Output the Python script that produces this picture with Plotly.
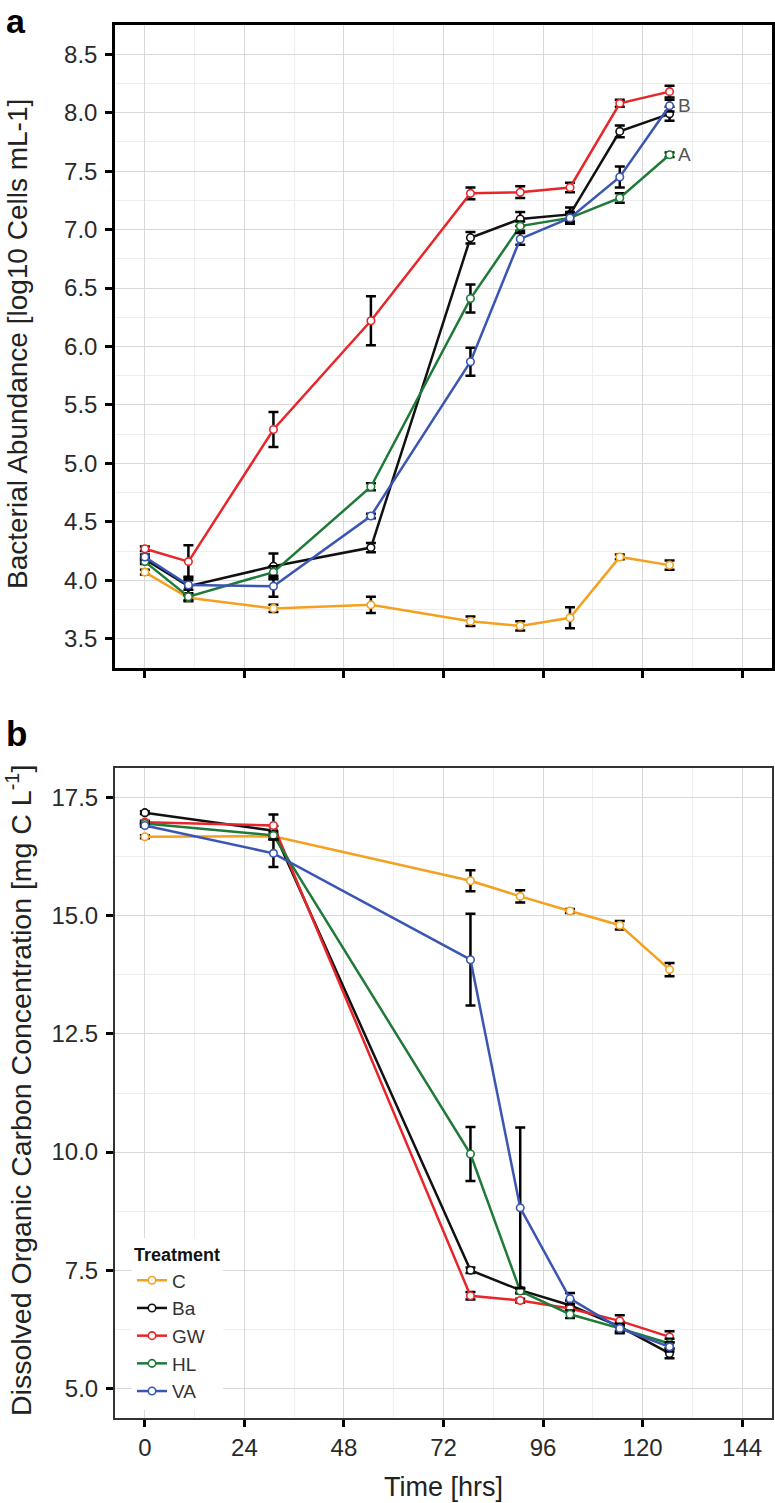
import plotly.graph_objects as go

# ---------------- data ----------------
treatments = ["C", "Ba", "GW", "HL", "VA"]
colors = {"C": "#F4A020", "Ba": "#111111", "GW": "#E8262A", "HL": "#1F7A38", "VA": "#3B55B3"}

# Panel a: bacterial abundance (log10 cells/mL)
time_a = [0, 10.5, 31, 54.5, 78.5, 90.5, 102.5, 114.5, 126.5]
C_a = [4.07, 3.85, 3.76, 3.79, 3.65, 3.61, 3.68, 4.20, 4.13]
C_a_err = [0.02, 0.03, 0.03, 0.07, 0.04, 0.04, 0.09, 0.02, 0.04]
Ba_a = [4.18, 3.95, 4.12, 4.28, 6.93, 7.09, 7.13, 7.84, 7.99]
Ba_a_err = [0.02, 0.08, 0.11, 0.04, 0.05, 0.06, 0.06, 0.05, 0.06]
GW_a = [4.27, 4.16, 5.29, 6.22, 7.31, 7.32, 7.36, 8.08, 8.18]
GW_a_err = [0.02, 0.14, 0.15, 0.21, 0.05, 0.05, 0.04, 0.03, 0.05]
HL_a = [4.16, 3.86, 4.07, 4.80, 6.41, 7.03, 7.10, 7.27, 7.64]
HL_a_err = [0.02, 0.03, 0.05, 0.03, 0.12, 0.04, 0.04, 0.04, 0.02]
VA_a = [4.20, 3.96, 3.95, 4.55, 5.87, 6.92, 7.10, 7.45, 8.06]
VA_a_err = [0.02, 0.04, 0.09, 0.02, 0.12, 0.05, 0.05, 0.09, 0.05]

# Panel b: dissolved organic carbon (mg C/L)
time_b = [0, 31, 78.5, 90.5, 102.5, 114.5, 126.5]
C_b = [16.67, 16.68, 15.74, 15.41, 15.10, 14.80, 13.86]
C_b_err = [0.03, 0.05, 0.22, 0.13, 0.04, 0.09, 0.14]
Ba_b = [17.18, 16.80, 7.50, 7.08, 6.76, 6.31, 5.74]
Ba_b_err = [0.03, 0.10, 0.06, 0.05, 0.10, 0.10, 0.10]
GW_b = [16.98, 16.91, 6.96, 6.86, 6.69, 6.43, 6.09]
GW_b_err = [0.03, 0.23, 0.08, 0.04, 0.05, 0.12, 0.12]
HL_b = [16.95, 16.70, 9.96, 7.06, 6.57, 6.27, 5.95]
HL_b_err = [0.03, 0.08, 0.57, 0.05, 0.08, 0.08, 0.10]
VA_b = [16.91, 16.32, 14.07, 8.82, 6.90, 6.27, 5.88]
VA_b_err = [0.03, 0.29, 0.97, 1.70, 0.12, 0.10, 0.10]

x_ticks = [0, 24, 48, 72, 96, 120, 144]
group_labels = {"VA": "B", "HL": "A"}

series_a = {"C": (C_a, C_a_err), "Ba": (Ba_a, Ba_a_err), "GW": (GW_a, GW_a_err),
            "HL": (HL_a, HL_a_err), "VA": (VA_a, VA_a_err)}
series_b = {"C": (C_b, C_b_err), "Ba": (Ba_b, Ba_b_err), "GW": (GW_b, GW_b_err),
            "HL": (HL_b, HL_b_err), "VA": (VA_b, VA_b_err)}

FONT = "Liberation Sans, Arial, Helvetica, sans-serif"
W, H = 775, 1503

fig = go.Figure()


def add(tr, t, vals, errs, xa, ya, show):
    fig.add_trace(go.Scatter(
        x=t, y=vals, mode="lines+markers", name=tr, legendgroup=tr, showlegend=show,
        xaxis=xa, yaxis=ya,
        line=dict(color=colors[tr], width=2.5),
        marker=dict(symbol="circle", size=7.5, color="white",
                    line=dict(color=colors[tr], width=1.6)),
        error_y=dict(type="data", array=errs, visible=True, color="black",
                     thickness=2.5, width=5),
    ))


for tr in treatments:
    v, e = series_a[tr]
    add(tr, time_a, v, e, "x", "y", False)
for tr in treatments:
    v, e = series_b[tr]
    add(tr, time_b, v, e, "x2", "y2", True)

# group letters next to final points of panel a
for tr, lab in group_labels.items():
    v, _ = series_a[tr]
    fig.add_annotation(x=time_a[-1], y=v[-1], xref="x", yref="y", text=lab,
                       showarrow=False, xanchor="left", xshift=6,
                       font=dict(family=FONT, size=19, color="#555555"))


def px_x(p):
    return p / W


def px_y(p):
    return 1 - p / H


grid_major = "#d9d9d9"
grid_minor = "#eeeeee"
TICKFONT = dict(family=FONT, size=24, color="#2a2a2a")

xcommon = dict(range=[-7.2, 151.2], tickmode="array", tickvals=x_ticks,
               ticks="outside", ticklen=7, tickwidth=2.5, tickcolor="black",
               showgrid=True, gridcolor=grid_major, gridwidth=1.4, zeroline=False,
               minor=dict(tickmode="array", tickvals=[12, 36, 60, 84, 108, 132],
                          showgrid=True, gridcolor=grid_minor, gridwidth=1, ticklen=0),
               showline=True, mirror=True, tickfont=TICKFONT)

fig.update_layout(
    width=W, height=H, margin=dict(l=0, r=0, t=0, b=0),
    paper_bgcolor="white", plot_bgcolor="white",
    font=dict(family=FONT),
    xaxis=dict(domain=[px_x(115), px_x(772)], anchor="y", showticklabels=False,
               linecolor="black", linewidth=2.5, **xcommon),
    yaxis=dict(domain=[px_y(668), px_y(25)], anchor="x", range=[3.25, 8.75],
               tickmode="array", tickvals=[3.5, 4.0, 4.5, 5.0, 5.5, 6.0, 6.5, 7.0, 7.5, 8.0, 8.5],
               tickformat=".1f", ticks="outside", ticklen=7, tickwidth=2.5, tickcolor="black",
               showgrid=True, gridcolor=grid_major, gridwidth=1.4, zeroline=False,
               minor=dict(tickmode="array",
                          tickvals=[3.75, 4.25, 4.75, 5.25, 5.75, 6.25, 6.75, 7.25, 7.75, 8.25],
                          showgrid=True, gridcolor=grid_minor, gridwidth=1, ticklen=0),
               showline=True, mirror=True, linecolor="black", linewidth=2.5,
               ticklabelstandoff=3, tickfont=TICKFONT),
    xaxis2=dict(domain=[px_x(115), px_x(772)], anchor="y2", showticklabels=True,
                linecolor="#333333", linewidth=2, **xcommon),
    yaxis2=dict(domain=[px_y(1418), px_y(768)], anchor="x2", range=[4.375, 18.125],
                tickmode="array", tickvals=[5.0, 7.5, 10.0, 12.5, 15.0, 17.5],
                tickformat=".1f", ticks="outside", ticklen=7, tickwidth=2.5, tickcolor="black",
                showgrid=True, gridcolor=grid_major, gridwidth=1.4, zeroline=False,
                minor=dict(tickmode="array", tickvals=[6.25, 8.75, 11.25, 13.75, 16.25],
                           showgrid=True, gridcolor=grid_minor, gridwidth=1, ticklen=0),
                showline=True, mirror=True, linecolor="#333333", linewidth=2,
                ticklabelstandoff=3, tickfont=TICKFONT),
    legend=dict(x=px_x(132), y=px_y(1238), xanchor="left", yanchor="top",
                bgcolor="white", borderwidth=0,
                title=dict(text="<b>Treatment</b>", font=dict(family=FONT, size=18, color="#111")),
                font=dict(family=FONT, size=19, color="#333"),
                tracegroupgap=0, itemwidth=30),
    showlegend=True,
)

# axis titles & panel letters
fig.add_annotation(x=px_x(17), y=px_y(344), xref="paper", yref="paper",
                   text="Bacterial Abundance [log10 Cells mL-1]", textangle=-90,
                   showarrow=False, xanchor="center", yanchor="middle",
                   font=dict(family=FONT, size=28, color="#222"))
fig.add_annotation(x=px_x(19), y=px_y(1091), xref="paper", yref="paper",
                   text="Dissolved Organic Carbon Concentration [mg C L<sup>-1</sup>]", textangle=-90,
                   showarrow=False, xanchor="center", yanchor="middle",
                   font=dict(family=FONT, size=28.5, color="#222"))
fig.add_annotation(x=px_x(443), y=px_y(1487), xref="paper", yref="paper",
                   text="Time [hrs]", showarrow=False, xanchor="center", yanchor="middle",
                   font=dict(family=FONT, size=27, color="#222"))
fig.add_annotation(x=px_x(4), y=1.0, xref="paper", yref="paper",
                   text="<b>a</b>", showarrow=False, xanchor="left", yanchor="top",
                   font=dict(family=FONT, size=34, color="black"))
fig.add_annotation(x=px_x(4), y=px_y(712), xref="paper", yref="paper",
                   text="<b>b</b>", showarrow=False, xanchor="left", yanchor="top",
                   font=dict(family=FONT, size=35, color="black"))

fig.write_html("out.html", config={"displayModeBar": False},
               post_script="document.body.style.margin='0';document.body.style.padding='0';")
